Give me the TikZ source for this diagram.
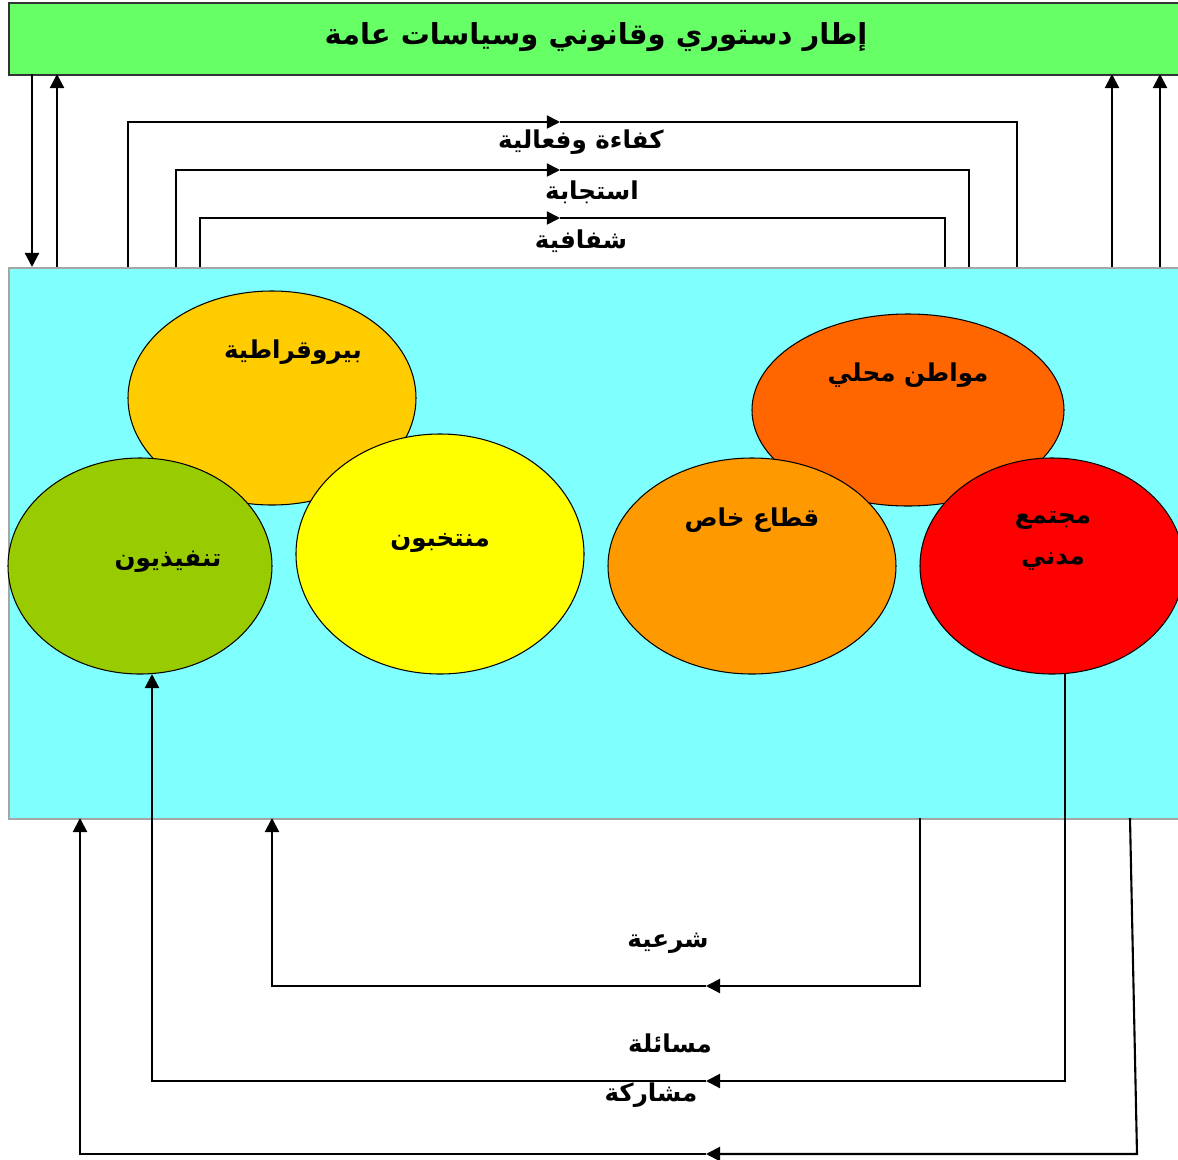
\documentclass[tikz,border=0pt]{standalone}
\usepackage{fontspec}
\usetikzlibrary{arrows.meta,shapes.geometric}
\newfontfamily\arabicfont[Script=Arabic]{DejaVu Sans}
\TeXXeTstate=1
\definecolor{framegreen}{HTML}{66FF66}
\definecolor{panelcyan}{HTML}{80FFFF}
\definecolor{cbureau}{HTML}{FFCC00}
\definecolor{ccitizen}{HTML}{FF6600}
\definecolor{cexec}{HTML}{99CC00}
\definecolor{celected}{HTML}{FFFF00}
\definecolor{cprivate}{HTML}{FF9900}
\definecolor{ccivil}{HTML}{FF0000}
\tikzset{
  actor/.style={ellipse, draw=black, line width=0.6pt, inner sep=0pt},
  lbl/.style={font=\arabicfont\bfseries\fontsize{14}{17}\selectfont, inner sep=0pt},
  flow/.style={line width=1.2pt, -{Triangle[length=8pt,width=8pt]}},
  loopline/.style={line width=1pt},
  loophead/.style={line width=1pt, -{Triangle[length=7.5pt,width=7.5pt]}},
}
\begin{document}
\begin{tikzpicture}[x=0.02cm, y=-0.02cm]
\useasboundingbox (0,0) rectangle (1178,1160);
\begin{scope}
\clip (0,0) rectangle (1178,1160);
% frame and panel
\node[draw=black!80, line width=1pt, fill=framegreen, minimum width=1200*0.02cm, minimum height=72*0.02cm, inner sep=0pt, anchor=north west] (frame) at (8,2) {};
\node[draw=black!35, line width=1pt, fill=panelcyan, minimum width=1200*0.02cm, minimum height=551*0.02cm, inner sep=0pt, anchor=north west] (panel) at (8,267) {};
\end{scope}
\node[font=\arabicfont\bfseries\fontsize{16.5}{20}\selectfont, inner sep=0pt] (title) at (596,37) {\beginR إطار دستوري وقانوني وسياسات عامة\endR};

% actors
\node[actor, fill=cbureau, minimum width=288*0.02cm, minimum height=214*0.02cm] (bureau) at (272,398) {};
\node[actor, fill=cexec, minimum width=264*0.02cm, minimum height=216*0.02cm] (exec) at (140,566) {};
\node[actor, fill=celected, minimum width=288*0.02cm, minimum height=240*0.02cm] (elected) at (440,554) {};
\node[actor, fill=ccitizen, minimum width=312*0.02cm, minimum height=192*0.02cm] (citizen) at (908,410) {};
\node[actor, fill=cprivate, minimum width=288*0.02cm, minimum height=216*0.02cm] (private) at (752,566) {};
\node[actor, fill=ccivil, minimum width=264*0.02cm, minimum height=216*0.02cm] (civil) at (1052,566) {};

\node[lbl] (lbureau) at (293,352) {\beginR بيروقراطية\endR};
\node[lbl] (lcitizen) at (908,375) {\beginR مواطن محلي\endR};
\node[lbl] (lexec) at (168,562) {\beginR تنفيذيون\endR};
\node[lbl] (lelected) at (440,543) {\beginR منتخبون\endR};
\node[lbl] (lprivate) at (752,520) {\beginR قطاع خاص\endR};
\node[lbl] (lcivil1) at (1053,520) {\beginR مجتمع\endR};
\node[lbl] (lcivil2) at (1053,562) {\beginR مدني\endR};

% vertical links between frame and panel
\coordinate (d1) at (32,74);  \coordinate (d1b) at (32,267);
\coordinate (u1) at (57,267); \coordinate (u1b) at (57,74);
\coordinate (u2) at (1112,267); \coordinate (u2b) at (1112,74);
\coordinate (u3) at (1160,267); \coordinate (u3b) at (1160,74);
\draw[flow] (d1) -- (d1b);
\draw[flow] (u1) -- (u1b);
\draw[flow] (u2) -- (u2b);
\draw[flow] (u3) -- (u3b);

% feedback loops above the panel
\coordinate (la1) at (128,267); \coordinate (lm1) at (560,122); \coordinate (lb1) at (1017,267);
\coordinate (la2) at (176,267); \coordinate (lm2) at (560,170); \coordinate (lb2) at (969,267);
\coordinate (la3) at (200,267); \coordinate (lm3) at (560,218); \coordinate (lb3) at (945,267);
\draw[loophead] (la1) |- (lm1);
\draw[loopline] (lm1) -| (lb1);
\draw[loophead] (la2) |- (lm2);
\draw[loopline] (lm2) -| (lb2);
\draw[loophead] (la3) |- (lm3);
\draw[loopline] (lm3) -| (lb3);
\node[lbl] (ttop1) at (581,142) {\beginR كفاءة وفعالية\endR};
\node[lbl] (ttop2) at (592,192) {\beginR استجابة\endR};
\node[lbl] (ttop3) at (581,241) {\beginR شفافية\endR};

% feedback loops below the panel
\coordinate (ba1) at (920,818); \coordinate (bc1) at (920,986); \coordinate (bm1) at (706,986); \coordinate (bb1) at (272,818);
\coordinate (ba2) at (1065,673); \coordinate (bc2) at (1065,1081); \coordinate (bm2) at (706,1081); \coordinate (bb2) at (152,674);
\coordinate (ba3) at (1130,818); \coordinate (bc3) at (1137,1154); \coordinate (bm3) at (706,1154); \coordinate (bb3) at (80,818);
\draw[flow] (ba1) -- (bc1) -- (bm1);
\draw[flow] (bm1) -| (bb1);
\draw[flow] (ba2) -- (bc2) -- (bm2);
\draw[flow] (bm2) -| (bb2);
\draw[flow] (ba3) -- (bc3) -- (bm3);
\draw[flow] (bm3) -| (bb3);
\node[lbl] (tbot1) at (668,943) {\beginR شرعية\endR};
\node[lbl] (tbot2) at (670,1043) {\beginR مسائلة\endR};
\node[lbl] (tbot3) at (651,1095) {\beginR مشاركة\endR};
\end{tikzpicture}
\end{document}
